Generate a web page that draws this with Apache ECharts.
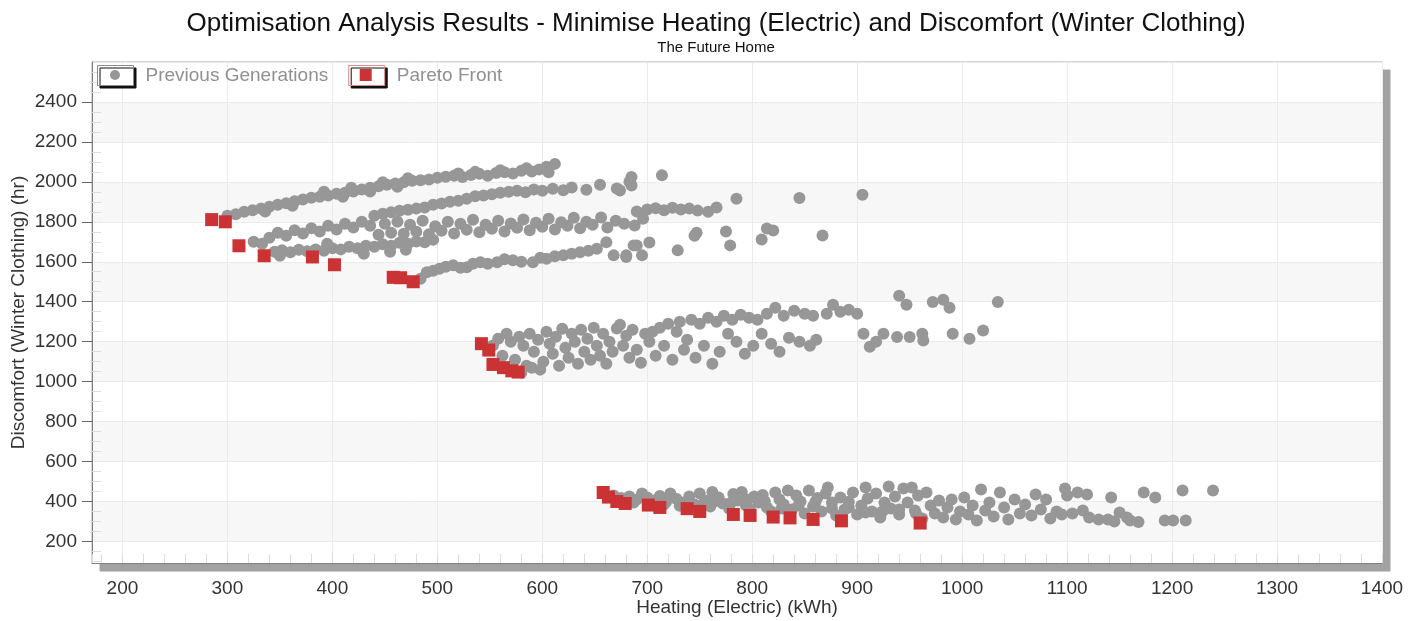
<!DOCTYPE html>
<html><head><meta charset="utf-8">
<script src="https://cdn.jsdelivr.net/npm/echarts@6/dist/echarts.min.js"></script>
<style>html,body{margin:0;padding:0;background:#fff}#c{width:1421px;height:621px}</style>
</head><body><div id="c"></div>
<script>
const titleText = 'Optimisation Analysis Results - Minimise Heating (Electric) and Discomfort (Winter Clothing)';
const subtitleText = 'The Future Home';
const xAxisName = 'Heating (Electric) (kWh)';
const yAxisName = 'Discomfort (Winter Clothing) (hr)';
const seriesNames = ['Previous Generations', 'Pareto Front'];
const xRange = [171, 1400];
const yRange = [92, 2600];
const xStep = 100;
const yStep = 200;

// Previous generations - upper group
const prevGenA = [
[300,1830],[308,1838],[316,1850],[324,1858],[332,1866],[340,1875],[348,1885],[356,1893],[364,1903],[372,1912],[380,1920],[388,1926],[396,1932],[404,1940],[412,1946],[420,1952],[428,1962],[436,1970],[444,1978],[452,1985],[460,1992],[468,1998],[476,2005],[484,2008],[500,2020],[508,2026],[516,2030],[524,2024],[532,2034],[540,2040],[548,2030],[556,2044],[564,2048],[572,2042],[580,2056],[590,2052],[597,2062],[604,2076],[612,2090],[606,2048],[392,1950],[418,1970],[448,1998],[472,2018],[520,2042],[560,2058],
[336,1852],[362,1880],[410,1926],[436,1952],[462,1975],[492,2012],[536,2050],[585,2068],
[440,1830],[448,1840],[456,1848],[464,1855],[472,1860],[480,1866],[488,1872],[496,1885],[504,1892],[512,1900],[520,1905],[528,1915],[536,1928],[544,1932],[552,1938],[560,1946],[568,1950],[576,1956],[584,1948],[592,1962],[600,1956],[610,1966],[620,1958],[628,1972],[642,1960],[671,1967],[683,2000],[685,2024],[714,2033],[674,1957],[685,1982],[655,1985],
[340,1720],[348,1745],[356,1730],[364,1758],[372,1742],[380,1768],[388,1752],[396,1780],[404,1762],[412,1790],[420,1772],[428,1800],[436,1780],
[444,1735],[450,1790],[456,1745],[462,1800],[468,1740],[474,1785],[480,1750],[486,1805],[492,1738],[498,1778],[504,1755],[510,1800],[516,1742],[522,1790],[528,1760],[534,1810],[540,1748],[546,1785],[552,1765],[558,1805],[564,1752],[570,1792],[576,1770],[582,1812],[588,1758],[594,1795],[600,1775],[606,1815],[612,1762],[618,1798],[624,1780],[630,1820],[636,1768],[642,1800],[648,1785],[656,1822],[662,1772],[670,1805],[678,1790],[688,1782],[696,1815],
[690,1852],[700,1862],[708,1868],[716,1858],[724,1870],[732,1862],[740,1866],[748,1856],[758,1850],[766,1872],[785,1916],[845,1919],[905,1936],
[747,1745],[775,1752],[779,1682],[814,1766],[820,1757],[809,1712],[867,1732],[702,1696],[690,1682],[729,1657],[695,1632],[680,1624],[745,1730],
[325,1700],[333,1690],[345,1650],[352,1658],[360,1648],[368,1660],[376,1652],[384,1662],[392,1655],[400,1668],[408,1662],[416,1675],[424,1668],[432,1680],[440,1675],[448,1688],[456,1680],[464,1695],[472,1690],[480,1702],[488,1698],[496,1710],[350,1630],[395,1690],[430,1640],[455,1650],[470,1660],
[484,1515],[490,1548],[496,1555],[502,1565],[508,1575],[515,1582],[522,1570],[528,1573],[534,1590],[541,1598],[548,1590],[557,1598],[564,1612],[572,1607],[580,1600],[591,1598],[598,1620],[604,1615],[612,1628],[620,1632],[628,1640],[636,1648],[644,1655],[652,1665],[661,1698],[668,1632],[680,1632],[687,1682]
];

// Previous generations - middle group
const prevGenB = [
[553,1181],[558,1215],[562,1130],[566,1240],[570,1200],[574,1110],[578,1225],[582,1180],[585,1080],[588,1240],[592,1150],[596,1210],[598,1060],[601,1100],[604,1250],[607,1190],[610,1140],[613,1225],[616,1080],[619,1265],[622,1170],[625,1120],[628,1240],[631,1200],[634,1090],[637,1260],[640,1150],[643,1215],[646,1110],[649,1270],[652,1180],[655,1130],[658,1240],[661,1090],[664,1200],[667,1150],[570,1060],[580,1045],[590,1070],
[671,1266],[674,1285],[677,1180],[680,1230],[683,1120],[686,1260],[690,1160],[694,1095],[698,1240],[702,1200],[705,1250],[708,1130],[712,1270],[716,1180],[720,1290],[724,1110],[728,1250],[731,1300],[735,1160],[738,1210],[742,1310],[746,1120],[750,1290],[754,1180],[758,1320],[762,1090],[766,1300],[769,1150],[773,1330],[777,1240],[781,1310],[785,1200],[789,1335],[793,1140],[797,1320],[801,1180],[805,1310],[809,1240],
[814,1340],[818,1190],[822,1370],[826,1150],[830,1330],[835,1220],[840,1355],[845,1200],[850,1340],[855,1180],[858,1330],[861,1210],[871,1340],[877,1385],[884,1350],[892,1360],[900,1340],[906,1240],[912,1175],[918,1200],[925,1240],[938,1223],[940,1430],[947,1385],[950,1223],[962,1240],[963,1206],[972,1398],[982,1410],[988,1370],[991,1240],[1007,1215],[1020,1256],[1034,1398]
];

// Previous generations - lower group
const prevGenC = [
[668,430],[675,418],[683,425],[690,410],[695,440],[700,420],[706,405],[712,428],[718,398],[722,440],[728,412],[735,395],[740,425],[745,385],[750,440],[755,405],[760,375],[762,448],[768,420],[772,390],[778,365],[782,438],[786,405],[790,448],[794,380],[798,360],[802,425],[806,395],[810,432],[814,370],[818,350],[822,445],[826,410],[830,385],[834,455],[838,360],[842,430],[846,400],[850,340],[854,455],[858,375],[862,418],[866,350],[870,440],[872,470],[876,395],[880,330],[884,420],[888,360],[892,398],[896,445],[900,335],[904,380],[908,470],[910,415],[914,350],[918,440],[922,320],[926,395],[930,475],[932,365],[936,425],[940,335],[944,465],[948,395],[952,470],[955,355],[958,430],[962,315],[966,445],[970,380],[974,340],[978,405],[982,320],[986,370],[990,410],[994,310],[998,350],[1002,420],[1006,335],[1010,380],[1014,305],[1018,460],[1022,355],[1026,395],[1030,325],[1036,445],[1040,370],[1044,310],[1050,410],[1055,340],[1060,385],[1066,330],[1070,435],[1075,360],[1080,410],[1084,315],[1090,350],[1095,335],[1098,465],[1100,430],[1105,340],[1110,445],[1115,355],[1119,435],[1121,320],[1130,310],[1139,310],[1142,420],[1145,300],[1150,345],[1157,320],[1160,305],[1168,297],[1173,445],[1184,420],[1193,305],[1201,305],[1210,455],[1213,305],[1239,455],
[672,405],[687,395],[703,392],[716,385],[731,378],[748,372],[764,400],[780,395],[796,410],[812,400],[828,365],[844,380],[860,395],[876,365],[892,370],[908,345],[924,350],[940,360],[956,340]
];

const paretoFront = [
[285,1811],[298,1800],[311,1680],[335,1630],[381,1624],[402,1585],[458,1522],[465,1520],[477,1500],
[542,1190],[549,1158],[553,1086],[563,1070],[571,1054],[577,1048],
[658,445],[663,422],[671,400],[679,390],[701,382],[712,370],[738,364],[750,350],[782,335],[798,330],[820,322],[836,318],[858,310],[885,303],[960,292]
];

const FONT = 'Liberation Sans, Arial, sans-serif';
const GRAY = '#979797';
const RED = '#cb3234';
const boxIcon = 'path://M0,0H36V20H0ZM43,20';
const dotIcon = 'path://M0,0M43,20M13,10A5,5,0,1,0,23,10A5,5,0,1,0,13,10Z';
const squareIcon = 'path://M0,0M43,20M12,4H24V16H12Z';
const plainNumber = v => String(v);

const chart = echarts.init(document.getElementById('c'), null, {renderer: 'canvas'});
const legendBase = {
  left: 97, top: 65, padding: 0, itemWidth: 43, itemHeight: 20, itemGap: 20,
  selectedMode: false, orient: 'horizontal'
};
chart.setOption({
  animation: false,
  backgroundColor: '#ffffff',
  title: [
    {text: titleText, left: 716, top: 11, padding: 0, textAlign: 'center',
     textStyle: {fontFamily: FONT, fontSize: 26, fontWeight: 'normal', color: '#111'}},
    {text: subtitleText, left: 716, top: 40, padding: 0, textAlign: 'center',
     textStyle: {fontFamily: FONT, fontSize: 15, fontWeight: 'normal', color: '#111'}}
  ],
  legend: [
    Object.assign({}, legendBase, {
      z: 9,
      textStyle: {fontFamily: FONT, fontSize: 19, color: '#909090'},
      data: [
        {name: seriesNames[0], icon: boxIcon, itemStyle: {color: '#fff', borderColor: '#8c8c8c', borderWidth: 1, shadowColor: '#111', shadowBlur: 0, shadowOffsetX: 2.5, shadowOffsetY: 2.5}},
        {name: seriesNames[1], icon: boxIcon, itemStyle: {color: '#fff', borderColor: '#e08a8a', borderWidth: 1, shadowColor: '#111', shadowBlur: 0, shadowOffsetX: 2.5, shadowOffsetY: 2.5}}
      ]
    }),
    Object.assign({}, legendBase, {
      z: 10,
      textStyle: {fontFamily: FONT, fontSize: 19, color: 'rgba(0,0,0,0)'},
      data: [
        {name: seriesNames[0], icon: dotIcon, itemStyle: {color: GRAY, borderWidth: 0}},
        {name: seriesNames[1], icon: squareIcon, itemStyle: {color: RED, borderWidth: 0}}
      ]
    })
  ],
  grid: {
    left: 92, right: 39, top: 62, bottom: 58, show: true,
    containLabel: false, outerBoundsMode: 'none',
    backgroundColor: '#ffffff', borderColor: '#ababab', borderWidth: 1,
    shadowColor: '#a2a2a2', shadowBlur: 0, shadowOffsetX: 8, shadowOffsetY: 8
  },
  xAxis: {
    type: 'value', min: xRange[0], max: xRange[1], minInterval: xStep, maxInterval: xStep, splitNumber: 12,
    name: xAxisName, nameLocation: 'middle', nameGap: 35, nameMoveOverlap: false,
    nameTextStyle: {fontFamily: FONT, fontSize: 19, color: '#333'},
    axisLine: {show: true, lineStyle: {color: '#7f7f7f', width: 1}},
    axisTick: {show: true, inside: true, length: 9, lineStyle: {color: '#dddddd'}},
    minorTick: {show: true, splitNumber: 5, length: 9, lineStyle: {color: '#dddddd'}},
    axisLabel: {fontFamily: FONT, fontSize: 19, color: '#333', margin: 16, showMinLabel: false, showMaxLabel: true, formatter: plainNumber},
    splitLine: {show: true, lineStyle: {color: '#ebebeb', width: 1}},
    splitArea: {show: false}
  },
  yAxis: [
    {
      type: 'value', min: yRange[0], max: yRange[1], minInterval: yStep, maxInterval: yStep, splitNumber: 12,
      name: yAxisName, nameLocation: 'middle', nameGap: 64, nameMoveOverlap: false,
      nameTextStyle: {fontFamily: FONT, fontSize: 19, color: '#333'},
      axisLine: {show: true, lineStyle: {color: '#7f7f7f', width: 1}},
      axisTick: {show: true, inside: false, length: 10, lineStyle: {color: '#666'}},
      axisLabel: {fontFamily: FONT, fontSize: 19, color: '#333', margin: 15, showMinLabel: false, showMaxLabel: false, formatter: plainNumber},
      splitLine: {show: true, lineStyle: {color: '#ebebeb', width: 1}},
      splitArea: {show: true, areaStyle: {color: ['#ffffff', '#f7f7f7']}}
    },
    {
      type: 'value', min: yRange[0], max: yRange[1], minInterval: yStep, maxInterval: yStep, splitNumber: 12,
      position: 'left', offset: 0,
      axisLine: {show: false},
      axisTick: {show: false, inside: true},
      minorTick: {show: true, splitNumber: 4, length: 9, lineStyle: {color: '#dddddd'}},
      axisLabel: {show: false},
      splitLine: {show: false},
      splitArea: {show: false}
    }
  ],
  series: [
    {
      name: seriesNames[0], type: 'scatter', symbol: 'circle', symbolSize: 12,
      itemStyle: {color: GRAY, opacity: 1}, z: 2,
      data: prevGenA.concat(prevGenB, prevGenC)
    },
    {
      name: seriesNames[1], type: 'scatter', symbol: 'rect', symbolSize: 13,
      itemStyle: {color: RED, opacity: 1}, z: 3,
      data: paretoFront
    }
  ]
});
</script>
</body></html>
